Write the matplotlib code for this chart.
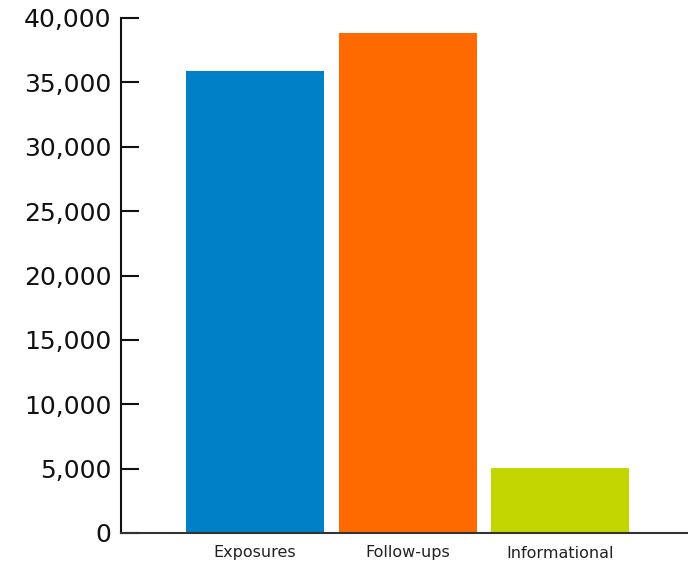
import matplotlib
matplotlib.use("Agg")
import matplotlib.pyplot as plt
from matplotlib.ticker import FuncFormatter

categories = ["Exposures", "Follow-ups", "Informational"]
values = [35900, 38850, 5050]
colors = ["#0080C6", "#FF6A00", "#C4D600"]
y_ticks = [0, 5000, 10000, 15000, 20000, 25000, 30000, 35000, 40000]

plt.rcParams['font.family'] = ['DejaVu Sans']

fig = plt.figure(figsize=(6.88, 5.62), dpi=100)
ax = fig.add_axes([121/688, 29/562, (688-121)/688, (533-18)/562])

x = list(range(len(categories)))
ax.bar(x, values, width=0.905, color=colors)

ax.set_xlim(-0.879, 2.839)
ax.set_ylim(0, 40000)
ax.set_yticks(y_ticks)
ax.yaxis.set_major_formatter(FuncFormatter(lambda v, p: f"{int(v):,}"))
ax.set_xticks(x)
ax.set_xticklabels(categories, fontsize=11.5, color="#222222")
ax.tick_params(axis='x', length=0, pad=9)
ax.tick_params(axis='y', direction='in', length=13, width=1.5, labelsize=18,
               pad=7, colors="#111111")

for s in ["top", "right"]:
    ax.spines[s].set_visible(False)
ax.spines["left"].set_linewidth(1.5)
ax.spines["left"].set_color("#111111")
ax.spines["bottom"].set_linewidth(1.5)
ax.spines["bottom"].set_color("#333333")

fig.savefig("out.png", dpi=100)
